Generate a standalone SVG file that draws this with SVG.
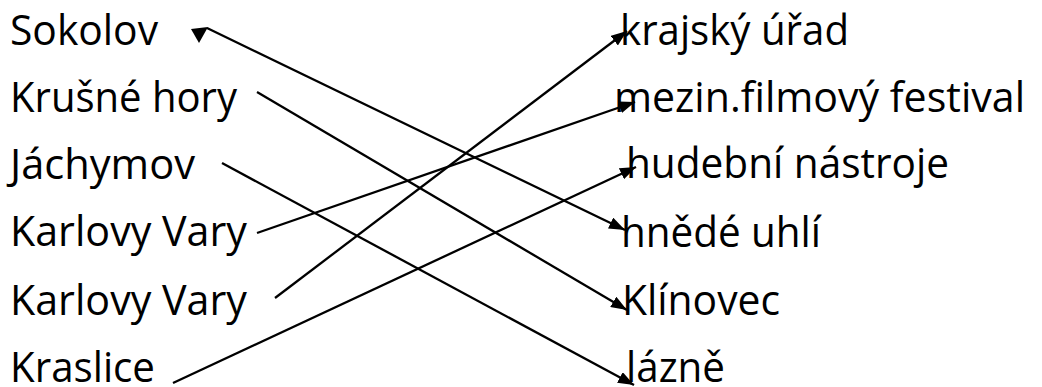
<svg xmlns="http://www.w3.org/2000/svg" width="1042" height="387" viewBox="0 0 1042 387">
<style>
.t{font-family:"Open Sans","Noto Sans","Liberation Sans",sans-serif;font-size:42px;fill:#000}
.c{stroke:#000;stroke-width:2.3;fill:none}
</style>
<defs>
<marker id="ah" viewBox="0 0 16 12" refX="16" refY="6" markerWidth="16" markerHeight="12" markerUnits="userSpaceOnUse" orient="auto">
<path d="M0,0 L16,6 L0,12 z" fill="#000"/>
</marker>
</defs>
<rect width="1042" height="387" fill="#fff"/>
<g id="left-sokolov"><text class="t" x="10" y="45" textLength="148" lengthAdjust="spacingAndGlyphs">Sokolov</text></g>
<g id="left-krusne-hory"><text class="t" x="10" y="112" textLength="227" lengthAdjust="spacingAndGlyphs">Krušné hory</text></g>
<g id="left-jachymov"><text class="t" x="10" y="179" textLength="185" lengthAdjust="spacingAndGlyphs">Jáchymov</text></g>
<g id="left-karlovy-vary-1"><text class="t" x="10" y="246" textLength="237" lengthAdjust="spacingAndGlyphs">Karlovy Vary</text></g>
<g id="left-karlovy-vary-2"><text class="t" x="10" y="315" textLength="237" lengthAdjust="spacingAndGlyphs">Karlovy Vary</text></g>
<g id="left-kraslice"><text class="t" x="10" y="382" textLength="145" lengthAdjust="spacingAndGlyphs">Kraslice</text></g>
<g id="right-krajsky-urad"><text class="t" x="620" y="45" textLength="229" lengthAdjust="spacingAndGlyphs">krajský úřad</text></g>
<g id="right-festival"><text class="t" x="614" y="112" textLength="411" lengthAdjust="spacingAndGlyphs">mezin.filmový festival</text></g>
<g id="right-hudebni"><text class="t" x="626" y="178" textLength="323" lengthAdjust="spacingAndGlyphs">hudební nástroje</text></g>
<g id="right-hnede-uhli"><text class="t" x="621" y="247" textLength="200" lengthAdjust="spacingAndGlyphs">hnědé uhlí</text></g>
<g id="right-klinovec"><text class="t" x="622" y="315" textLength="158" lengthAdjust="spacingAndGlyphs">Klínovec</text></g>
<g id="right-lazne"><text class="t" x="626" y="382" textLength="99" lengthAdjust="spacingAndGlyphs">lázně</text></g>
<g id="connectors">
<line class="c" x1="207" y1="28" x2="625" y2="230" marker-end="url(#ah)"/>
<polygon points="191,29 208,27 199,43" fill="#000"/>
<line class="c" x1="257" y1="92" x2="627" y2="310" marker-end="url(#ah)"/>
<line class="c" x1="222" y1="163" x2="634" y2="385" marker-end="url(#ah)"/>
<line class="c" x1="257" y1="233" x2="635" y2="102" marker-end="url(#ah)"/>
<line class="c" x1="275" y1="298" x2="627" y2="31" marker-end="url(#ah)"/>
<line class="c" x1="173" y1="383" x2="636" y2="167" marker-end="url(#ah)"/>
</g>
</svg>
